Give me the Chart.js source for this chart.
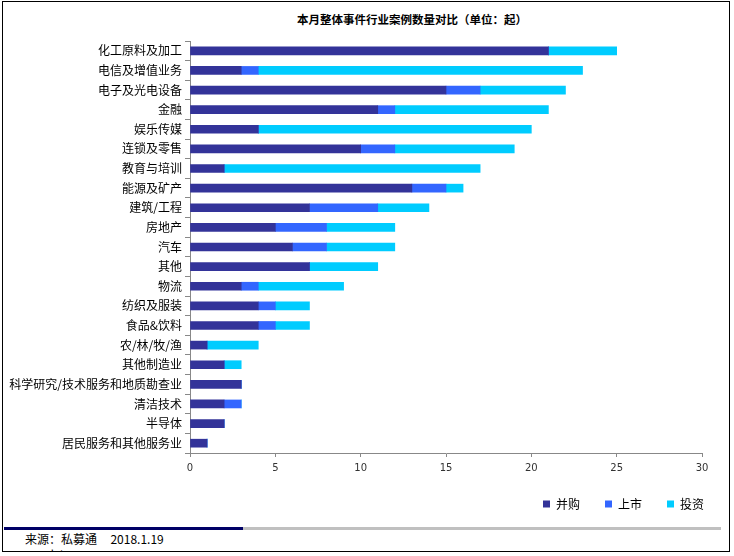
<!DOCTYPE html>
<html>
<head>
<meta charset="utf-8">
<script src="https://cdn.jsdelivr.net/npm/chart.js"></script>
<style>
  body { margin: 0; background: #fff; font-family: "Noto Sans CJK SC", sans-serif; }
  #frame { position: absolute; left: 2px; top: 1px; width: 726px; height: 549px; border: 1px solid #000; }
  #title { position: absolute; left: 297px; top: 11px; font-size: 11.5px; font-weight: bold; color: #000; white-space: nowrap; }
  #wrap { position: absolute; left: 0; top: 0; width: 734px; height: 520px; }
  #barDark { position: absolute; left: 4px; top: 527px; width: 239px; height: 3px; background: #000066; }
  #barGray { position: absolute; left: 243px; top: 527px; width: 478px; height: 3px; background: #c0c0c0; }
  #fonte { position: absolute; left: 25px; top: 530px; font-size: 12px; color: #000; white-space: nowrap; }
  #site { position: absolute; left: 5px; top: 546px; height: 5px; overflow: hidden; font-size: 11px; color: #000; line-height: 14px; }
</style>
</head>
<body>
<div id="frame"></div>
<div id="title">本月整体事件行业案例数量对比（单位：起）</div>
<div id="wrap"><canvas id="grafico"></canvas></div>
<div id="barDark"></div>
<div id="barGray"></div>
<div id="fonte">来源：私募通&nbsp;&nbsp;&nbsp;&nbsp;&nbsp;2018.1.19</div>
<div id="site">www.pedata.cn</div>
<script>
// Categorias (de cima para baixo)
const setores = [
  "化工原料及加工", "电信及增值业务", "电子及光电设备", "金融", "娱乐传媒",
  "连锁及零售", "教育与培训", "能源及矿产", "建筑/工程", "房地产", "汽车",
  "其他", "物流", "纺织及服装", "食品&饮料", "农/林/牧/渔", "其他制造业",
  "科学研究/技术服务和地质勘查业", "清洁技术", "半导体", "居民服务和其他服务业"
];

// Séries
const bingGou = [21, 3, 15, 11, 4, 10, 2, 13, 7, 5, 6, 7, 3, 4, 4, 1, 2, 3, 2, 2, 1];
const shangShi = [0, 1, 2, 1, 0, 2, 0, 2, 4, 3, 2, 0, 1, 1, 1, 0, 0, 0, 1, 0, 0];
const touZi = [4, 19, 5, 9, 16, 7, 15, 1, 3, 4, 4, 4, 5, 2, 2, 3, 1, 0, 0, 0, 0];

const xTicks = [0, 5, 10, 15, 20, 25, 30];

// Empurra a legenda para a direita, como no original
const moverLegenda = {
  id: "moverLegenda",
  afterLayout(chart) {
    if (chart.legend) {
      chart.legend.left += 27;
      chart.legend.right += 27;
    }
  }
};

const ctx = document.getElementById("grafico").getContext("2d");
new Chart(ctx, {
  type: "bar",
  data: {
    labels: setores,
    datasets: [
      { label: "并购", data: bingGou, backgroundColor: "#333399" },
      { label: "上市", data: shangShi, backgroundColor: "#3366ff" },
      { label: "投资", data: touZi, backgroundColor: "#00ccff" }
    ]
  },
  plugins: [moverLegenda],
  options: {
    indexAxis: "y",
    responsive: true,
    maintainAspectRatio: false,
    animation: false,
    datasets: { bar: { barThickness: 8 } },
    layout: { padding: { top: 41, left: 0, right: 32, bottom: 0 } },
    plugins: {
      title: { display: false },
      tooltip: { enabled: false },
      legend: {
        position: "bottom",
        align: "end",
        labels: {
          boxWidth: 7,
          boxHeight: 7,
          padding: 25,
          color: "#000",
          font: { family: "Noto Sans CJK SC", size: 12 }
        }
      }
    },
    scales: {
      x: {
        stacked: true,
        min: 0,
        max: 30,
        afterBuildTicks: (scale) => { scale.ticks = xTicks.map(v => ({ value: v })); },
        afterFit: (scale) => { scale.height = 20; },
        border: { display: true, color: "#888" },
        grid: { drawOnChartArea: false, drawTicks: true, tickLength: 4, color: "#888" },
        ticks: { color: "#333", font: { family: "DejaVu Sans", size: 10 }, padding: 5 }
      },
      y: {
        stacked: true,
        afterFit: (scale) => { scale.width = 190; },
        border: { display: true, color: "#888" },
        grid: { drawOnChartArea: false, drawTicks: true, tickLength: 5, color: "#888", offset: true },
        ticks: { color: "#000", font: { family: "Noto Sans CJK SC", size: 12 }, padding: 3, autoSkip: false }
      }
    }
  }
});
</script>
</body>
</html>
